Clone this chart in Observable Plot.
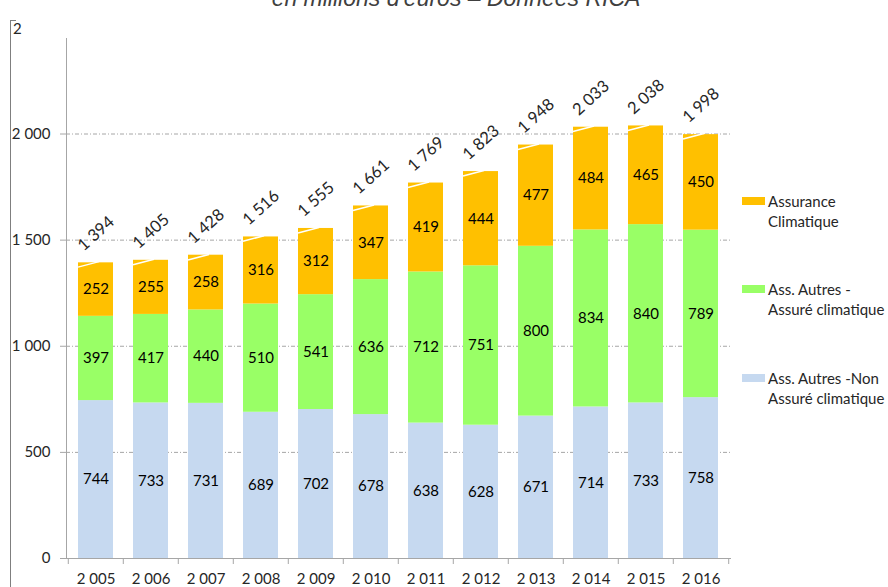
<!DOCTYPE html>
<html>
<head>
<meta charset="utf-8">
<script src="https://cdn.jsdelivr.net/npm/d3@7"></script>
<script src="https://cdn.jsdelivr.net/npm/@observablehq/plot@0.6"></script>
<style>
  html, body { margin: 0; padding: 0; background: #fff; }
  #wrap { position: relative; width: 888px; height: 587px; overflow: hidden; font-family: Lato, "Open Sans", sans-serif; }
  #title { position: absolute; top: -15px; left: 0; width: 912px; text-align: center; font-family: "Liberation Sans", Arial, sans-serif; font-style: italic; font-size: 23px; color: #404040; white-space: nowrap; }
  #border { position: absolute; left: 10px; top: 20px; width: 5px; height: 600px; border-left: 1px solid #7f7f7f; border-top: 1px solid #7f7f7f; }
  #two { position: absolute; left: 13px; top: 19px; font-size: 15px; color: #262626; }
  #chart { position: absolute; left: 0; top: 0; }
  .leg { position: absolute; left: 742px; font-size: 15px; color: #262626; line-height: 20px; white-space: nowrap; }
  .sw { position: absolute; left: 0; top: 6px; width: 23px; height: 8px; }
  .lt { position: absolute; left: 26px; top: 0; }
</style>
</head>
<body>
<div id="wrap">
  <div id="chart"></div>
  <div id="border"></div>
  <div id="two">2</div>
  <div id="title">en millions d'euros – Données RICA</div>
  <div id="legend"></div>
</div>
<script>
const years = ["2 005","2 006","2 007","2 008","2 009","2 010","2 011","2 012","2 013","2 014","2 015","2 016"];
const nonAssure = [744,733,731,689,702,678,638,628,671,714,733,758];
const autresAssure = [397,417,440,510,541,636,712,751,800,834,840,789];
const assurance = [252,255,258,316,312,347,419,444,477,484,465,450];
const totals = [1394,1405,1428,1516,1555,1661,1769,1823,1948,2033,2038,1998];
const totalLabels = ["1 394","1 405","1 428","1 516","1 555","1 661","1 769","1 823","1 948","2 033","2 038","1 998"];
const yTicks = [0,500,1000,1500,2000];
const yTickLabels = ["0","500","1 000","1 500","2 000"];
const seriesNames = ["Ass. Autres -Non Assuré climatique","Ass. Autres - Assuré climatique","Assurance Climatique"];
const seriesColors = ["#c6d9f0","#99ff66","#ffc000"];
const legendLines = [["Assurance","Climatique"],["Ass. Autres -","Assuré climatique"],["Ass. Autres -Non","Assuré climatique"]];

const seriesValues = [nonAssure, autresAssure, assurance];
const data = [];
seriesNames.forEach((s, si) => years.forEach((y, i) => data.push({year: y, series: s, value: seriesValues[si][i]})));
const totalData = years.map((y, i) => ({year: y, total: totals[i], label: totalLabels[i]}));

const step = 665 / years.length;

// white leader lines crossing each bar's top-left corner (label leaders)
function leaders(index, scales) {
  const g = d3.create("svg:g").attr("stroke", "#fff").attr("stroke-width", 1.5);
  const bw = scales.x.bandwidth();
  totalData.forEach(d => {
    const x0 = scales.x(d.year);
    const yt = scales.y(d.total);
    g.append("line").attr("x1", x0).attr("y1", yt + 5).attr("x2", x0 + bw * 0.6).attr("y2", yt - 0.5);
  });
  return g.node();
}

const chart = Plot.plot({
  width: 888, height: 587,
  marginLeft: 66, marginRight: 157, marginTop: 38, marginBottom: 29,
  x: {type: "band", domain: years, paddingInner: 0.36, paddingOuter: 0.18, label: null},
  y: {domain: [0, 2450], label: null},
  color: {domain: seriesNames, range: seriesColors},
  style: {fontFamily: "Lato, 'Open Sans', sans-serif", fontSize: "15px", background: "transparent"},
  marks: [
    Plot.gridY(yTicks.slice(1), {stroke: "#a6a6a6", strokeOpacity: 1, strokeDasharray: "4,2,1,2"}),
    Plot.barY(data, {x: "year", y: "value", fill: "series", z: "series", order: seriesNames}),
    leaders,
    Plot.text(data, Plot.stackY({x: "year", y: "value", z: "series", text: "value", order: seriesNames, fill: "#000", fontSize: 15})),
    Plot.text(totalData, {x: "year", y: "total", text: "label", rotate: -42, dy: -29, fill: "#262626", fontSize: 16.5}),
    Plot.ruleY([0], {stroke: "#a6a6a6"}),
    Plot.frame({anchor: "left", stroke: "#a6a6a6"}),
    Plot.axisY({ticks: yTicks, tickFormat: (d, i) => yTickLabels[i], tickSize: 6, tickPadding: 10, stroke: "#a6a6a6", fill: "#262626", fontSize: 15}),
    Plot.axisX({tickSize: 0, tickPadding: 15, fill: "#262626", fontSize: 15}),
    Plot.axisX({tickSize: 6, text: null, dx: -step / 2, stroke: "#a6a6a6"}),
    Plot.axisX([years[years.length - 1]], {tickSize: 6, text: null, dx: step / 2, stroke: "#a6a6a6"})
  ]
});
document.getElementById("chart").appendChild(chart);

const legTops = [191, 279, 368];
const legend = document.getElementById("legend");
[2, 1, 0].forEach((si, k) => {
  const d = document.createElement("div");
  d.className = "leg";
  d.style.top = legTops[k] + "px";
  d.innerHTML = `<div class="sw" style="background:${seriesColors[si]}"></div><div class="lt">${legendLines[k][0]}<br>${legendLines[k][1]}</div>`;
  legend.appendChild(d);
});
</script>
</body>
</html>
